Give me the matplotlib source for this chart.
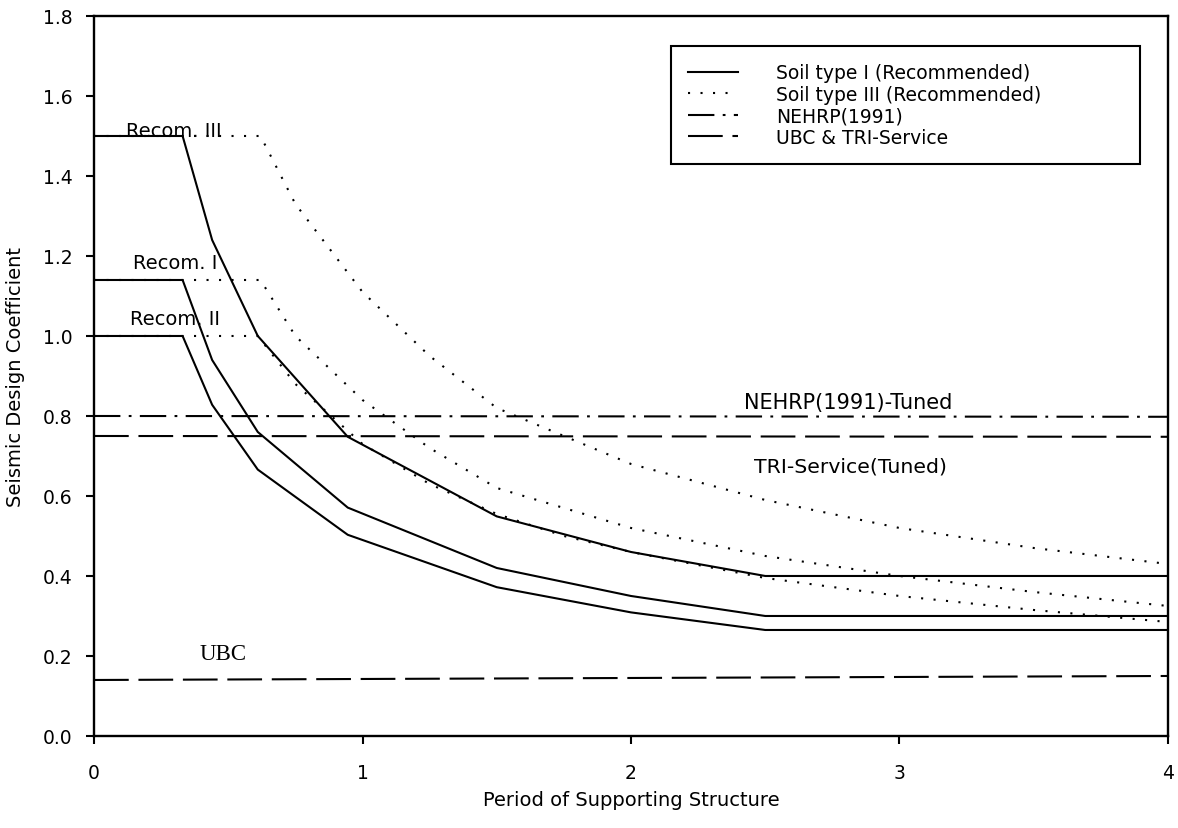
"""
Seismic design coefficient spectra: recommended soil type I / III curves
compared with NEHRP(1991), UBC and TRI-Service levels.
"""

import matplotlib
matplotlib.use('Agg')  # non-interactive backend, file output only
import matplotlib.pyplot as plt


# Recommended spectra, soil type I (solid), break points of the period axis
period_soil1 = [0, 0.33, 0.44, 0.61, 0.945, 1.5, 2.0, 2.5, 4.0]
coef_soil1_recom3 = [1.50, 1.50, 1.24, 1.00, 0.748, 0.549, 0.46, 0.40, 0.40]
coef_soil1_recom1 = [1.14, 1.14, 0.94, 0.76, 0.571, 0.42, 0.35, 0.30, 0.30]
coef_soil1_recom2 = [1.00, 1.00, 0.828, 0.666, 0.503, 0.372, 0.309, 0.265, 0.265]

# Recommended spectra, soil type III (dotted)
period_soil3 = [0, 0.62, 0.75, 1.0, 1.25, 1.5, 1.75, 2.0, 2.5, 3.0, 3.5, 4.0]
coef_soil3_recom3 = [1.50, 1.50, 1.33, 1.11, 0.95, 0.82, 0.75, 0.68, 0.59, 0.52, 0.47, 0.43]
coef_soil3_recom1 = [1.14, 1.14, 1.00, 0.84, 0.72, 0.62, 0.57, 0.52, 0.45, 0.40, 0.36, 0.325]
period_soil3_recom2 = [0, 0.61, 0.75, 1.0, 1.25, 1.5, 1.75, 2.0, 2.5, 3.0, 3.5, 4.0]
coef_soil3_recom2 = [1.00, 1.00, 0.88, 0.73, 0.63, 0.555, 0.50, 0.46, 0.395, 0.35, 0.315, 0.285]

# Code levels (constant over the period range)
period_span = [0, 4.0]
coef_nehrp_tuned = [0.80, 0.798]
coef_tri_tuned = [0.75, 0.748]
coef_ubc = [0.14, 0.15]

x_ticks = [0, 1, 2, 3, 4]
y_ticks = [0.0, 0.2, 0.4, 0.6, 0.8, 1.0, 1.2, 1.4, 1.6, 1.8]

legend_labels = [
    'Soil type I (Recommended)',
    'Soil type III (Recommended)',
    'NEHRP(1991)',
    'UBC & TRI-Service',
]

THEME = {
    'line_width': 1.5,
    'frame_width': 1.7,
    'font_size': 13.5,
    'dotted': (0, (1.5, 7.5)),
    'dash_dot': (0, (19, 6, 2, 6)),
    'long_dash': (0, (25, 7)),
    'dpi': 100,
}

plt.rcParams.update({
    'font.family': 'DejaVu Sans',
    'font.size': THEME['font_size'],
    'lines.scale_dashes': False,
    'axes.linewidth': THEME['frame_width'],
})

fig = plt.figure(figsize=(11.78, 8.29), dpi=THEME['dpi'])
ax = fig.add_axes([0.0798, 0.111, 0.9117, 0.8685])

lw = THEME['line_width']

# Soil type I
h_soil1, = ax.plot(period_soil1, coef_soil1_recom3, color='black', lw=lw)
ax.plot(period_soil1, coef_soil1_recom1, color='black', lw=lw)
ax.plot(period_soil1, coef_soil1_recom2, color='black', lw=lw)

# Soil type III
h_soil3, = ax.plot(period_soil3, coef_soil3_recom3, color='black', lw=lw,
                   linestyle=THEME['dotted'])
ax.plot(period_soil3, coef_soil3_recom1, color='black', lw=lw,
        linestyle=THEME['dotted'])
ax.plot(period_soil3_recom2, coef_soil3_recom2, color='black', lw=lw,
        linestyle=THEME['dotted'])

# Code levels
h_nehrp, = ax.plot(period_span, coef_nehrp_tuned, color='black', lw=lw,
                   linestyle=THEME['dash_dot'])
h_ubc, = ax.plot(period_span, coef_tri_tuned, color='black', lw=lw,
                 linestyle=THEME['long_dash'])
ax.plot(period_span, coef_ubc, color='black', lw=lw,
        linestyle=THEME['long_dash'])

# Curve labels
ax.text(0.12, 1.50, 'Recom. III', fontsize=14, va='baseline')
ax.text(0.145, 1.17, 'Recom. I', fontsize=14, va='baseline')
ax.text(0.134, 1.03, 'Recom. II', fontsize=14, va='baseline')
ax.text(0.394, 0.192, 'UBC', fontsize=16.5, family='Liberation Serif', va='baseline')
ax.text(2.42, 0.82, 'NEHRP(1991)-Tuned', fontsize=15, va='baseline')
ax.text(2.457, 0.66, 'TRI-Service(Tuned)', fontsize=14.7, va='baseline')

# Axes formatting
ax.set_xlim(0, 4)
ax.set_ylim(0, 1.8)
ax.set_xticks(x_ticks)
ax.set_xticklabels([str(t) for t in x_ticks])
ax.set_yticks(y_ticks)
ax.set_yticklabels([f'{t:.1f}' for t in y_ticks])
ax.tick_params(axis='both', direction='out', length=5.5, width=1.5,
               labelsize=13.5)
ax.tick_params(axis='y', pad=10)
ax.tick_params(axis='x', pad=14)
ax.set_xlabel('Period of Supporting Structure', fontsize=14, labelpad=6)
ax.set_ylabel('Seismic Design Coefficient', fontsize=14, labelpad=13)

# Legend box
leg = ax.legend(
    [h_soil1, h_soil3, h_nehrp, h_ubc], legend_labels,
    loc='upper left', bbox_to_anchor=(0.537, 0.958, 0.4368, 0.0),
    mode='expand', borderaxespad=0, fancybox=False, framealpha=1,
    edgecolor='black', fontsize=13.5, handlelength=2.7, handletextpad=2.0,
    labelspacing=0.14, borderpad=0.9,
)
leg.get_frame().set_linewidth(1.5)

fig.savefig('out.png', dpi=THEME['dpi'])
plt.close(fig)
